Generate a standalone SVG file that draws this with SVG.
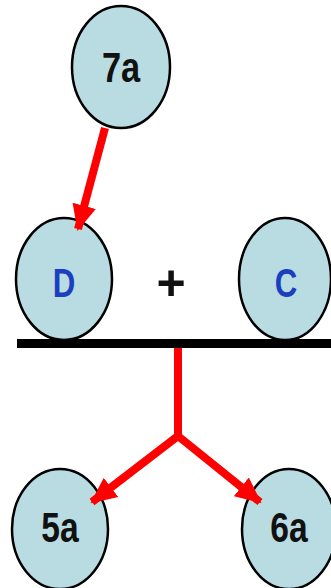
<svg xmlns="http://www.w3.org/2000/svg" width="331" height="588" viewBox="0 0 331 588">
<style>
.node ellipse{fill:#b8dce2;stroke:#000;stroke-width:2.5}
.lbl{font-family:"Liberation Sans",Arial,sans-serif;font-weight:bold;text-anchor:middle}
.blk{fill:#111}
.blu{fill:#1a3fbf}
.red{stroke:#f00;stroke-width:8;fill:none}
</style>
<defs>
<marker id="ah" markerUnits="userSpaceOnUse" markerWidth="26" markerHeight="26" viewBox="0 0 26 26" refX="24" refY="13" orient="auto">
<path d="M0,1 L26,13 L0,25 Z" fill="#f00"/>
</marker>
</defs>
<rect width="331" height="588" fill="#fff"/>
<g id="n7a" class="node">
<ellipse cx="121" cy="67" rx="49" ry="61"/>
<text class="lbl blk" x="0" y="0" font-size="43" transform="translate(121,82) scale(0.8,1)">7a</text>
</g>
<g id="nD" class="node">
<ellipse cx="64" cy="279" rx="48" ry="61"/>
<text class="lbl blu" x="0" y="0" font-size="40" transform="translate(64,297) scale(0.78,1)">D</text>
</g>
<g id="plus">
<text class="lbl blk" x="171" y="300" font-size="50">+</text>
</g>
<g id="nC" class="node">
<ellipse cx="285" cy="279" rx="46" ry="61"/>
<text class="lbl blu" x="0" y="0" font-size="40" transform="translate(286,297) scale(0.78,1)">C</text>
</g>
<g id="bar">
<rect x="17" y="339" width="314" height="9" fill="#000"/>
</g>
<g id="n5a" class="node">
<ellipse cx="60" cy="529" rx="48" ry="60"/>
<text class="lbl blk" x="0" y="0" font-size="42" transform="translate(60,542) scale(0.8,1)">5a</text>
</g>
<g id="n6a" class="node">
<ellipse cx="289" cy="529" rx="47" ry="60"/>
<text class="lbl blk" x="0" y="0" font-size="42" transform="translate(289,542) scale(0.8,1)">6a</text>
</g>
<g id="connectors">
<line class="red" x1="105" y1="128" x2="78" y2="229" marker-end="url(#ah)"/>
<polyline class="red" points="178,348 178,436" stroke-linejoin="round"/>
<line class="red" x1="178" y1="436" x2="92" y2="502" marker-end="url(#ah)"/>
<line class="red" x1="178" y1="436" x2="260" y2="502" marker-end="url(#ah)"/>
</g>
</svg>
